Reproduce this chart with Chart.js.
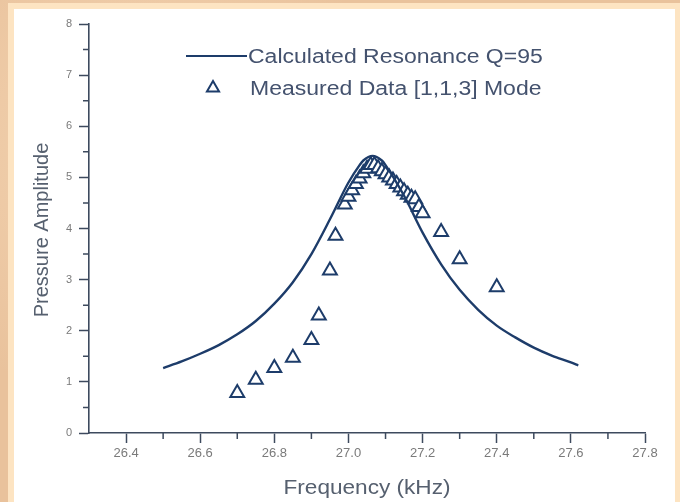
<!DOCTYPE html>
<html>
<head>
<meta charset="utf-8">
<script src="https://cdn.jsdelivr.net/npm/chart.js@4/dist/chart.umd.min.js"></script>
<style>
  html, body { margin: 0; padding: 0; }
  body { width: 680px; height: 502px; position: relative; overflow: hidden;
         background: #e9c29c;
         background-image: radial-gradient(circle at 20% 30%, rgba(255,230,200,0.5), rgba(255,230,200,0) 40%),
                           radial-gradient(circle at 80% 70%, rgba(220,170,130,0.4), rgba(220,170,130,0) 45%); }
  #band { position: absolute; left: 8px; top: 3px; width: 672px; height: 499px; background: #fde4c2; }
  #panel { position: absolute; left: 14px; top: 9px; width: 661px; height: 493px; background: #ffffff; }
  #c { position: absolute; left: 0; top: 0; }
</style>
</head>
<body>
<div id="band"></div>
<div id="panel"></div>
<canvas id="c" width="680" height="502"></canvas>
<script>
// ---- data ----
const curveFreq = [26.50, 26.55, 26.60, 26.65, 26.70, 26.75, 26.80, 26.85, 26.90, 26.95, 27.00, 27.03, 27.04, 27.065, 27.09, 27.10, 27.15, 27.20, 27.25, 27.30, 27.35, 27.40, 27.45, 27.50, 27.55, 27.60, 27.62];
const curveAmp  = [1.27, 1.40, 1.55, 1.72, 1.93, 2.19, 2.53, 2.95, 3.50, 4.18, 4.90, 5.24, 5.33, 5.42, 5.33, 5.24, 4.64, 3.92, 3.30, 2.80, 2.41, 2.10, 1.87, 1.67, 1.51, 1.38, 1.32];
const measFreq = [26.70, 26.75, 26.80, 26.85, 26.90, 26.92, 26.95, 26.965, 26.99, 27.00, 27.01, 27.02, 27.03, 27.04, 27.05, 27.06, 27.07, 27.08, 27.09, 27.10, 27.11, 27.12, 27.13, 27.14, 27.15, 27.16, 27.17, 27.18, 27.19, 27.20, 27.25, 27.30, 27.40];
const measAmp  = [0.78, 1.04, 1.27, 1.47, 1.82, 2.30, 3.18, 3.86, 4.47, 4.62, 4.75, 4.87, 4.98, 5.08, 5.17, 5.24, 5.24, 5.18, 5.12, 5.06, 5.00, 4.94, 4.87, 4.80, 4.73, 4.66, 4.60, 4.57, 4.42, 4.30, 3.93, 3.40, 2.85];
const xTickValues = [26.4, 26.6, 26.8, 27.0, 27.2, 27.4, 27.6, 27.8];
const xMinorValues = [26.5, 26.7, 26.9, 27.1, 27.3, 27.5, 27.7];
const yTickValues = [0, 1, 2, 3, 4, 5, 6, 7, 8];
const yMinorValues = [0.5, 1.5, 2.5, 3.5, 4.5, 5.5, 6.5, 7.5];
const seriesNames = ['Calculated Resonance Q=95', 'Measured Data [1,1,3] Mode'];
const xTitle = 'Frequency (kHz)';
const yTitle = 'Pressure Amplitude';

const navy = '#1d3c6a';
const axisCol = '#3d4a5e';
const FONT = '"Liberation Sans", Arial, sans-serif';

function stretchedText(ctx, text, x, y, sx) {
  ctx.save();
  ctx.translate(x, y);
  ctx.scale(sx, 1);
  ctx.fillText(text, 0, 0);
  ctx.restore();
}

const decor = {
  id: 'decor',
  afterDraw(chart) {
    const ctx = chart.ctx;
    const xs = chart.scales.x, ys = chart.scales.y;
    const ca = chart.chartArea;
    ctx.save();
    // minor ticks
    ctx.strokeStyle = axisCol;
    ctx.lineWidth = 1.5;
    ctx.beginPath();
    xMinorValues.forEach(v => {
      const px = xs.getPixelForValue(v);
      ctx.moveTo(px, ca.bottom); ctx.lineTo(px, ca.bottom + 6);
    });
    yMinorValues.forEach(v => {
      const py = ys.getPixelForValue(v);
      ctx.moveTo(ca.left, py); ctx.lineTo(ca.left - 6, py);
    });
    ctx.stroke();

    // axis titles
    ctx.fillStyle = '#56606f';
    ctx.font = '20px ' + FONT;
    ctx.textAlign = 'center';
    ctx.textBaseline = 'middle';
    stretchedText(ctx, xTitle, (ca.left + ca.right) / 2, 488, 1.13);
    ctx.save();
    ctx.translate(42, 230);
    ctx.rotate(-Math.PI / 2);
    ctx.fillText(yTitle, 0, 0);
    ctx.restore();

    // legend
    ctx.font = '20px ' + FONT;
    ctx.textAlign = 'left';
    ctx.fillStyle = '#44526e';
    ctx.strokeStyle = navy;
    ctx.lineWidth = 2.2;
    ctx.beginPath();
    ctx.moveTo(186, 56); ctx.lineTo(247, 56);
    ctx.stroke();
    stretchedText(ctx, seriesNames[0], 248, 57, 1.15);
    // triangle marker
    const tx = 213, ty = 88, r = 7;
    ctx.beginPath();
    ctx.moveTo(tx, ty - r);
    ctx.lineTo(tx + r * 0.866, ty + r * 0.5);
    ctx.lineTo(tx - r * 0.866, ty + r * 0.5);
    ctx.closePath();
    ctx.fillStyle = '#fff';
    ctx.fill();
    ctx.lineWidth = 2;
    ctx.stroke();
    ctx.fillStyle = '#44526e';
    stretchedText(ctx, seriesNames[1], 250, 89, 1.15);
    ctx.restore();
  }
};

new Chart(document.getElementById('c'), {
  type: 'scatter',
  data: {
    datasets: [
      {
        label: seriesNames[1],
        data: measFreq.map((f, i) => ({ x: f, y: measAmp[i] })),
        pointStyle: 'triangle',
        pointRadius: 8,
        pointBorderWidth: 2,
        pointBorderColor: navy,
        pointBackgroundColor: 'rgba(255,255,255,1)',
        showLine: false,
        order: 1
      },
      {
        type: 'line',
        label: seriesNames[0],
        data: curveFreq.map((f, i) => ({ x: f, y: curveAmp[i] })),
        borderColor: navy,
        borderWidth: 2.4,
        pointRadius: 0,
        fill: false,
        cubicInterpolationMode: 'monotone',
        order: 0
      }
    ]
  },
  options: {
    responsive: false,
    animation: false,
    devicePixelRatio: 1,
    layout: { padding: { left: 0, top: 24, right: 35, bottom: 0 } },
    plugins: { legend: { display: false }, tooltip: { enabled: false } },
    scales: {
      x: {
        type: 'linear',
        min: 26.3, max: 27.8,
        afterBuildTicks: s => { s.ticks = xTickValues.map(v => ({ value: v })); },
        afterFit: s => { s.height = 69; },
        grid: { drawOnChartArea: false, drawTicks: true, tickLength: 10, tickColor: axisCol, tickWidth: 1.5 },
        border: { display: true, color: axisCol, width: 1.6 },
        ticks: {
          autoSkip: false, maxRotation: 0, padding: 3,
          color: '#7a7a7a', font: { family: FONT, size: 13 },
          callback: v => Number(v).toFixed(1)
        }
      },
      y: {
        type: 'linear',
        min: 0, max: 8,
        afterBuildTicks: s => { s.ticks = yTickValues.map(v => ({ value: v })); },
        afterFit: s => { s.width = 89; },
        grid: { drawOnChartArea: false, drawTicks: true, tickLength: 10, tickColor: axisCol, tickWidth: 1.5 },
        border: { display: true, color: axisCol, width: 1.6 },
        ticks: {
          autoSkip: false, padding: 7,
          color: '#7a7a7a', font: { family: FONT, size: 11 },
          callback: v => String(v)
        }
      }
    }
  },
  plugins: [decor]
});
</script>
</body>
</html>
